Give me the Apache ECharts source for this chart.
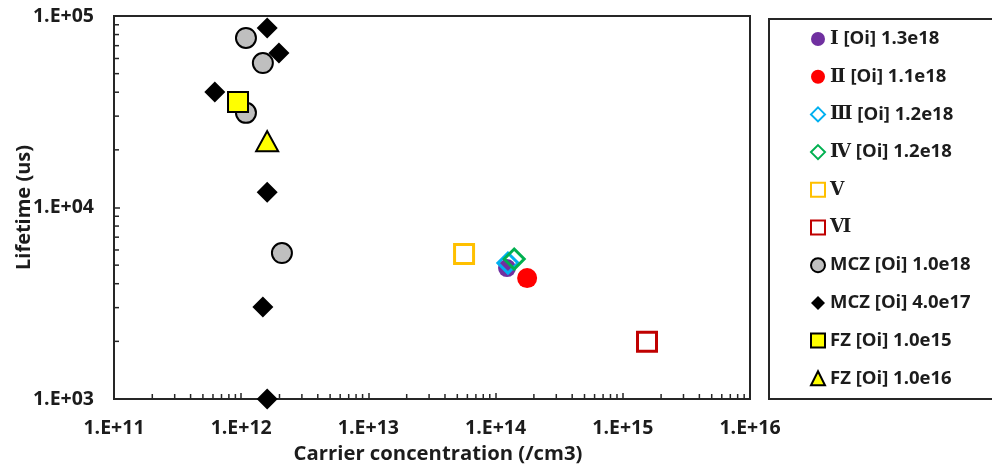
<!DOCTYPE html>
<html>
<head>
<meta charset="utf-8">
<script src="https://cdn.jsdelivr.net/npm/echarts@6/dist/echarts.min.js"></script>
<style>
  html, body { margin: 0; padding: 0; background: #fff; }
  #chart { width: 992px; height: 470px; }
</style>
</head>
<body>
<div id="chart"></div>
<script>
// Lifetime vs carrier concentration, one array pair per sample group
const sampleNames = [
  'Ⅰ [Oi] 1.3e18', 'Ⅱ [Oi] 1.1e18', 'Ⅲ [Oi] 1.2e18', 'Ⅳ [Oi] 1.2e18',
  'Ⅴ', 'Ⅵ',
  'MCZ [Oi] 1.0e18', 'MCZ [Oi] 4.0e17', 'FZ [Oi] 1.0e15', 'FZ [Oi] 1.0e16'
];

const s1X = [1.23e14], s1Y = [4830];
const s2X = [1.77e14], s2Y = [4280];
const s3X = [1.25e14], s3Y = [5130];
const s4X = [1.40e14], s4Y = [5380];
const s5X = [5.65e13], s5Y = [5710];
const s6X = [1.55e15], s6Y = [1990];
const mczHighX = [1.09e12, 1.48e12, 1.09e12, 2.09e12];
const mczHighY = [76800, 56800, 31200, 5780];
const mczLowX = [1.60e12, 1.98e12, 6.2e11, 1.60e12, 1.48e12, 1.60e12];
const mczLowY = [86600, 64100, 40100, 12000, 3020, 1000];
const fz15X = [9.44e11], fz15Y = [35600];
const fz16X = [1.60e12], fz16Y = [22200];

const xTickLabels = ['1.E+11', '1.E+12', '1.E+13', '1.E+14', '1.E+15', '1.E+16'];
const xTickExp = [11, 12, 13, 14, 15, 16];
const yTickLabels = ['1.E+03', '1.E+04', '1.E+05'];
const yTickExp = [3, 4, 5];
const minorMantissa = [2, 3, 4, 5, 6, 7, 8, 9];

const X_MIN = 1e11, X_MAX = 1e16, Y_MIN = 1e3, Y_MAX = 1e5;

function pairs(xs, ys) { return xs.map((x, i) => [x, ys[i]]); }
function tickLabel(exps, labels) {
  return function (v) {
    const e = Math.round(Math.log10(v));
    const i = exps.indexOf(e);
    return i >= 0 ? labels[i] : '';
  };
}

// minor tick positions (2..9 within each decade)
const xMinor = [], yMinor = [];
xTickExp.slice(0, -1).forEach(e => minorMantissa.forEach(m => xMinor.push([m * Math.pow(10, e), Y_MIN])));
yTickExp.slice(0, -1).forEach(e => minorMantissa.forEach(m => yMinor.push([X_MIN, m * Math.pow(10, e)])));

const FONT = '"Open Sans", "Noto Sans", sans-serif';
const INK = '#1c1c1c';
const AXIS = '#262626';

function scatter(name, xs, ys, symbol, size, style, z) {
  return {
    name: name, type: 'scatter', data: pairs(xs, ys),
    symbol: symbol, symbolSize: size, itemStyle: Object.assign({ opacity: 1 }, style),
    z: z, emphasis: { disabled: true }
  };
}

function minorTickSeries(data, horizontal) {
  return {
    type: 'custom', data: data, silent: true, z: 1, clip: false,
    renderItem: function (params, api) {
      const p = api.coord([api.value(0), api.value(1)]);
      const shape = horizontal
        ? { x1: p[0], y1: p[1], x2: p[0] + 5, y2: p[1] }
        : { x1: p[0], y1: p[1], x2: p[0], y2: p[1] - 5 };
      return { type: 'line', shape: shape, style: { stroke: AXIS, lineWidth: 1.5 } };
    }
  };
}

const chart = echarts.init(document.getElementById('chart'), null, { renderer: 'canvas' });

chart.setOption({
  animation: false,
  backgroundColor: '#fff',
  grid: {
    left: 114, right: 242, top: 16, bottom: 71,
    containLabel: false, outerBoundsMode: 'none',
    show: true, borderColor: AXIS, borderWidth: 2, backgroundColor: 'transparent'
  },
  xAxis: {
    type: 'log', logBase: 10, min: X_MIN, max: X_MAX, interval: 1, splitNumber: 5,
    name: 'Carrier concentration (/cm3)', nameLocation: 'middle', nameGap: 45, nameMoveOverlap: false,
    nameTextStyle: { fontFamily: FONT, fontWeight: 'bold', fontSize: 20.3, color: INK, padding: [0, 0, 0, 12] },
    axisLine: { onZero: false, lineStyle: { color: AXIS, width: 2 } },
    axisTick: { inside: true, length: 6, lineStyle: { color: AXIS, width: 1.5 } },
    splitLine: { show: false },
    axisLabel: {
      margin: 19, fontFamily: FONT, fontWeight: 'bold', fontSize: 19.5, color: INK,
      formatter: tickLabel(xTickExp, xTickLabels)
    }
  },
  yAxis: {
    type: 'log', logBase: 10, min: Y_MIN, max: Y_MAX, interval: 1, splitNumber: 2,
    name: 'Lifetime (us)', nameLocation: 'middle', nameGap: 80, nameMoveOverlap: false,
    nameTextStyle: { fontFamily: FONT, fontWeight: 'bold', fontSize: 20, color: INK },
    axisLine: { onZero: false, lineStyle: { color: AXIS, width: 2 } },
    axisTick: { inside: true, length: 6, lineStyle: { color: AXIS, width: 1.5 } },
    splitLine: { show: false },
    axisLabel: {
      margin: 20, fontFamily: FONT, fontWeight: 'bold', fontSize: 19.5, color: INK,
      formatter: tickLabel(yTickExp, yTickLabels)
    }
  },
  legend: {
    orient: 'vertical', left: 810, top: 29, padding: 0,
    itemWidth: 14, itemHeight: 14, itemGap: 17.7,
    data: sampleNames,
    selectedMode: false,
    textStyle: {
      fontFamily: FONT, fontWeight: 'bold', fontSize: 18.5, color: INK, lineHeight: 20,
      rich: {
        r: { fontFamily: '"DejaVu Serif", "Liberation Serif", serif', fontWeight: 'bold', fontSize: 18.5, color: INK, lineHeight: 20 }
      }
    },
    formatter: function (name) {
      if (/^[\u2160-\u216F]/.test(name)) {
        const sp = name.indexOf(' ');
        if (sp < 0) return '{r|' + name + '}';
        return '{r|' + name.slice(0, sp) + '} ' + name.slice(sp + 1);
      }
      return name;
    }
  },
  graphic: [{
    type: 'rect', left: 768, top: 18, silent: true, z: 0,
    shape: { width: 240, height: 380 },
    style: { fill: 'transparent', stroke: AXIS, lineWidth: 2 }
  }],
  series: [
    minorTickSeries(xMinor, false),
    minorTickSeries(yMinor, true),
    scatter(sampleNames[0], s1X, s1Y, 'circle', 18, { color: '#7030A0' }, 5),
    scatter(sampleNames[1], s2X, s2Y, 'circle', 20, { color: '#FF0000' }, 6),
    scatter(sampleNames[2], s3X, s3Y, 'diamond', 20, { color: '#ffffff00', borderColor: '#00B0F0', borderWidth: 3 }, 7),
    scatter(sampleNames[3], s4X, s4Y, 'diamond', 20, { color: '#ffffff00', borderColor: '#00B050', borderWidth: 3 }, 8),
    scatter(sampleNames[4], s5X, s5Y, 'rect', 19, { color: '#ffffff00', borderColor: '#FFC000', borderWidth: 3 }, 5),
    scatter(sampleNames[5], s6X, s6Y, 'rect', 19, { color: '#ffffff00', borderColor: '#C00000', borderWidth: 3 }, 5),
    scatter(sampleNames[6], mczHighX, mczHighY, 'circle', 20, { color: '#BFBFBF', borderColor: '#000', borderWidth: 2 }, 4),
    scatter(sampleNames[7], mczLowX, mczLowY, 'diamond', 21, { color: '#000' }, 3),
    scatter(sampleNames[8], fz15X, fz15Y, 'rect', 20, { color: '#FFFF00', borderColor: '#000', borderWidth: 2 }, 6),
    scatter(sampleNames[9], fz16X, fz16Y, 'triangle', [22, 20], { color: '#FFFF00', borderColor: '#000', borderWidth: 2 }, 6)
  ]
});
</script>
</body>
</html>
